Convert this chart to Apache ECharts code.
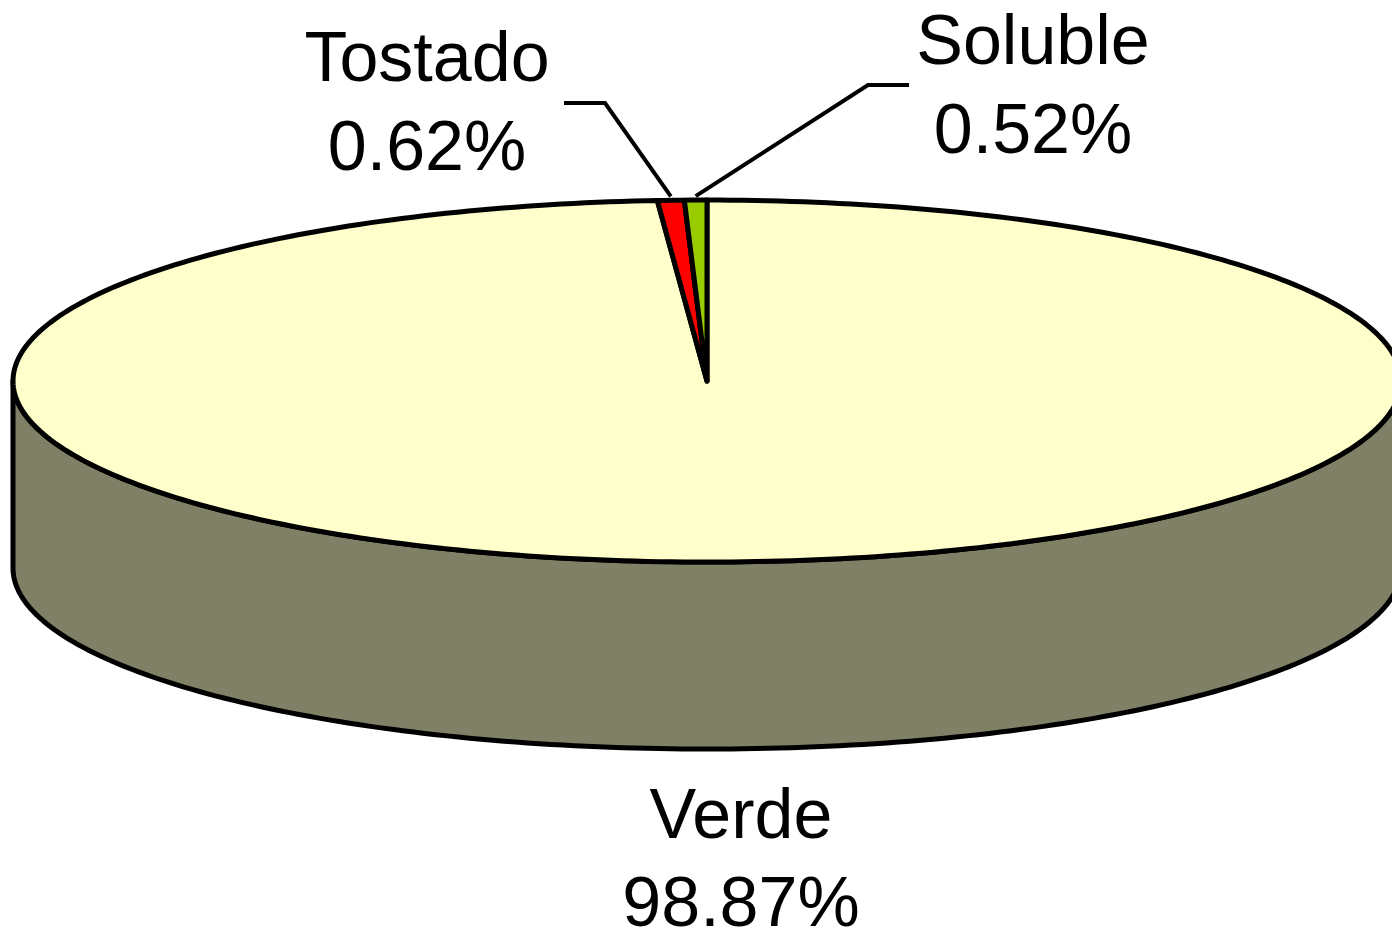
<!DOCTYPE html>
<html><head><meta charset="utf-8">
<script src="https://cdn.jsdelivr.net/npm/echarts@6/dist/echarts.min.js"></script>
<style>html,body{margin:0;padding:0;background:#fff}#c{width:1392px;height:931px}</style>
</head><body><div id="c"></div>
<script>
// ---- data ----
const categories = ['Verde', 'Tostado', 'Soluble'];
const values = [98.87, 0.62, 0.52];

// ---- styles / layout ----
const topColors = ['#FFFFCC', '#FF0000', '#99CC00'];
const sideColors = ['#808066', '#800000', '#4D6600'];
const FONT = '70px "Liberation Sans", Arial, sans-serif';
const OUTLINE_W = 5;
const LEADER_W = 4;
const labelLayout = [
  { x: 741, y1: 819, y2: 907, elbow: null },
  { x: 427, y1: 62, y2: 151, elbow: [[564, 103], [605, 103]] },
  { x: 1033, y1: 45, y2: 134, elbow: [[909, 85], [868, 85]] }
];

const chart = echarts.init(document.getElementById('c'), null, { renderer: 'canvas' });

function renderItem(params, api) {
  const W = api.getWidth(), H = api.getHeight();
  const cx = W * 0.5079, cy = H * 0.4093;
  const rx = 694, ry = 181, depth = 187;
  const i = params.dataIndex;
  const total = values.reduce((a, b) => a + b, 0);
  let before = 0;
  for (let k = 0; k < i; k++) before += values[k];
  const start = before / total * 360;
  const end = (before + api.value(0)) / total * 360;
  const pt = (deg, dy) => {
    const r = deg * Math.PI / 180;
    return [cx + rx * Math.sin(r), cy - ry * Math.cos(r) + (dy || 0)];
  };
  const arc = (a, b, dy) => {
    const n = Math.max(4, Math.ceil(Math.abs(b - a)));
    const pts = [];
    for (let j = 0; j <= n; j++) pts.push(pt(a + (b - a) * j / n, dy));
    return pts;
  };
  const children = [];
  // front wall
  const s = Math.max(start, 90), e = Math.min(end, 270);
  if (s < e) {
    const pts = arc(s, e, 0).concat(arc(e, s, depth));
    children.push({ type: 'polygon', shape: { points: pts },
      style: { fill: sideColors[i], stroke: '#000', lineWidth: OUTLINE_W, lineJoin: 'round' } });
  }
  // top face
  const topPts = [[cx, cy]].concat(arc(start, end, 0));
  children.push({ type: 'polygon', shape: { points: topPts },
    style: { fill: topColors[i], stroke: '#000', lineWidth: OUTLINE_W, lineJoin: 'round' } });
  // leader line
  const L = labelLayout[i];
  if (L.elbow) {
    const tip = pt((start + end) / 2, -4);
    children.push({ type: 'polyline', shape: { points: [L.elbow[0], L.elbow[1], tip] },
      style: { stroke: '#000', lineWidth: LEADER_W, fill: null } });
  }
  // labels
  children.push({ type: 'text', style: { text: categories[i], x: L.x, y: L.y1, font: FONT,
    fill: '#000', textAlign: 'center', textVerticalAlign: 'middle' } });
  children.push({ type: 'text', style: { text: api.value(0).toFixed(2) + '%', x: L.x, y: L.y2, font: FONT,
    fill: '#000', textAlign: 'center', textVerticalAlign: 'middle' } });
  return { type: 'group', children };
}

chart.setOption({
  animation: false,
  backgroundColor: '#fff',
  series: [{
    type: 'custom',
    coordinateSystem: 'none',
    renderItem: renderItem,
    data: values.map((v, i) => ({ name: categories[i], value: [v] }))
  }]
});
</script></body></html>
